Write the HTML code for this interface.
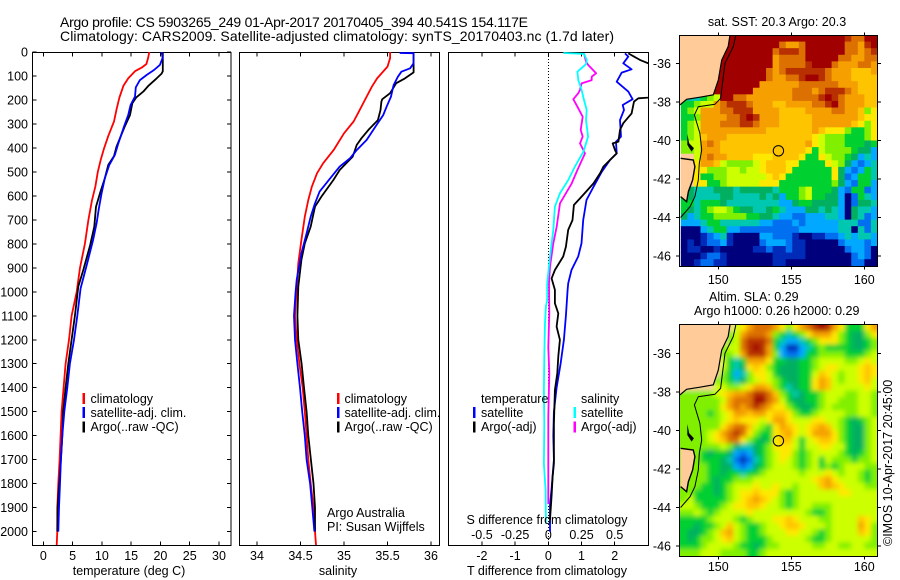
<!DOCTYPE html>
<html>
<head>
<meta charset="utf-8">
<style>
html,body{margin:0;padding:0;background:#fff;}
svg{display:block;}
text{font-family:"Liberation Sans",sans-serif;font-size:12.5px;fill:#000;}
.t{font-size:14px;}
</style>
</head>
<body>
<svg id="fig" xmlns="http://www.w3.org/2000/svg" width="900" height="580" viewBox="0 0 900 580">
<defs>
<clipPath id="clipT"><rect x="33" y="52" width="198" height="493"/></clipPath>
<clipPath id="clipS"><rect x="240" y="52" width="199" height="493"/></clipPath>
<clipPath id="clipD"><rect x="448" y="52" width="200" height="493"/></clipPath>
<clipPath id="clipM1"><rect x="679" y="35" width="198" height="232"/></clipPath>
<clipPath id="clipM2"><rect x="679" y="324" width="198" height="233"/></clipPath>
<filter id="smooth" x="-10%" y="-10%" width="120%" height="120%"><feGaussianBlur stdDeviation="2.4"/></filter>
</defs>
<text class="t" x="60" y="27" textLength="468" lengthAdjust="spacing">Argo profile: CS 5903265_249 01-Apr-2017 20170405_394 40.541S 154.117E</text>
<text class="t" x="60" y="41" textLength="554" lengthAdjust="spacing">Climatology: CARS2009. Satellite-adjusted climatology: synTS_20170403.nc (1.7d later)</text>
<g id="plots"></g>
<text x="129" y="575" text-anchor="middle">temperature (deg C)</text>
<text x="338" y="575" text-anchor="middle">salinity</text>
<text x="547" y="575" text-anchor="middle">T difference from climatology</text>
<text x="547" y="524" text-anchor="middle">S difference from climatology</text>
<text x="327" y="517">Argo Australia</text>
<text x="327" y="531">PI: Susan Wijffels</text>
<text x="777" y="26" text-anchor="middle">sat. SST: 20.3 Argo: 20.3</text>
<text x="709" y="301">Altim. SLA: 0.29</text>
<text x="694" y="315">Argo h1000: 0.26 h2000: 0.29</text>
<text transform="translate(892,546) rotate(-90)">©IMOS 10-Apr-2017 20:45:00</text>
</svg>
<script>
// ---- profile data ----
const depthTicks = [0,100,200,300,400,500,600,700,800,900,1000,1100,1200,1300,1400,1500,1600,1700,1800,1900,2000];
const tempTicks = [0,5,10,15,20,25,30];
const salTicks = [34,34.5,35,35.5,36];
const salTickLabels = ['34','34.5','35','35.5','36'];
const diffTTicks = [-2,-1,0,1,2];
const diffSTicks = [-0.5,-0.25,0,0.25,0.5];
const lonTicks = [150,155,160];
const latTicks = [-36,-38,-40,-42,-44,-46];

const tempClimDepth = [0,25,50,65,80,110,140,190,240,290,350,400,450,500,560,620,700,800,900,1000,1100,1200,1300,1400,1500,1600,1700,1800,1900,2000,2056];
const tempClimValue = [18.1,17.9,17.6,16.8,15.65,14.5,13.7,13.0,12.5,12.07,11.1,10.4,9.8,9.3,8.9,8.3,7.7,7.1,6.26,5.7,4.84,4.38,3.8,3.47,3.13,2.96,2.79,2.56,2.39,2.39,2.28];
const tempArgoDepth = [0,80,90,110,142,165,189,214,263,311,395,434,471,527,589,645,728,805,909,978,1100,1200,1300,1400,1500,1600,1700,1800,1900,2000];
const tempArgoValue = [20.4,20.4,20.2,19.35,17.9,17.07,15.9,15.2,14.8,13.9,12.5,12.07,11.1,10.5,9.68,9.0,8.7,8.0,6.83,5.98,5.4,4.84,4.27,3.8,3.4,3.24,3.0,2.73,2.45,2.39];
const tempSatDepth = [0,25,54,75,96,117,147,186,221,263,311,381,430,471,527,589,652,714,784,881,986,1100,1200,1300,1400,1500,1600,1700,1800,1900,2000];
const tempSatValue = [20.2,20.37,19.9,18.9,17.64,16.5,15.8,15.65,14.9,14.5,13.77,12.8,12.2,11.27,10.5,9.96,9.5,9.1,8.5,7.5,6.37,5.8,5.24,4.55,4.1,3.59,3.24,3.0,2.85,2.68,2.56];

const salClimDepth = [0,26,61,110,145,200,256,290,339,409,464,506,562,617,687,784,881,986,1100,1200,1300,1400,1500,1600,1700,1800,1900,2000,2056];
const salClimValue = [35.53,35.53,35.5,35.38,35.32,35.24,35.16,35.11,35.0,34.88,34.76,34.69,34.63,34.59,34.55,34.51,34.475,34.456,34.437,34.456,34.487,34.525,34.55,34.57,34.59,34.617,34.65,34.667,34.678];
const salArgoDepth = [0,85,110,130,172,197,207,242,284,325,360,388,409,436,492,534,603,645,728,798,867,978,1100,1200,1300,1400,1500,1600,1700,1800,1900,2000];
const salArgoValue = [35.8,35.8,35.7,35.6,35.53,35.44,35.43,35.42,35.39,35.28,35.2,35.146,35.126,35.1,34.95,34.877,34.74,34.667,34.617,34.55,34.51,34.475,34.464,34.475,34.513,34.54,34.57,34.59,34.62,34.65,34.667,34.667];
const salSatDepth = [4,5,47,68,82,103,138,186,228,263,304,367,409,443,478,527,582,631,687,756,840,950,1000,1100,1200,1300,1400,1500,1600,1700,1800,1900,2000];
const salSatValue = [35.64,35.8,35.8,35.76,35.66,35.62,35.57,35.54,35.49,35.45,35.375,35.26,35.146,35.07,34.95,34.84,34.72,34.667,34.617,34.57,34.51,34.456,34.444,34.425,34.437,34.464,34.494,34.52,34.55,34.57,34.61,34.636,34.66];

const diffTSatDepth = [6,19,47,72,86,124,147,165,197,221,242,284,353,374,423,450,499,562,617,701,798,853,909,965,992,1100,1200,1300,1400,1500,1600,1700,1820,1890,2000];
const diffTSatValue = [2.31,2.41,2.26,2.51,2.21,2.06,2.26,2.41,2.54,2.24,2.28,2.16,2.19,2.04,2.06,1.86,1.61,1.36,1.15,1.05,1.0,0.9,0.7,0.6,0.58,0.53,0.47,0.37,0.25,0.17,0.15,0.17,0.1,0.05,0.05];
const diffTArgoDepth = [6,33,47,80,120,160,190,193,207,256,297,325,374,381,409,423,450,478,506,548,596,638,701,742,812,853,909,944,992,1048,1090,1145,1200,1270,1340,1410,1550,1717,1772,1850,1950];
const diffTArgoValue = [2.41,2.76,3.01,4.4,5.0,3.6,3.01,2.71,2.58,2.51,2.26,2.16,2.11,1.94,2.01,2.06,1.86,1.66,1.56,1.36,1.05,0.77,0.73,0.6,0.53,0.45,0.2,0.1,0.2,0.2,0.3,0.25,0.35,0.3,0.27,0.2,0.17,0.17,0.13,0.1,0.05];
const diffSArgoDepth = [6,40,54,89,103,117,131,158,172,197,228,270,325,353,381,423,492,548,631,728,798,895,965,1090,1230,1340,1520,1690,1885];
const diffSArgoValue = [0.269,0.284,0.3,0.36,0.327,0.327,0.251,0.239,0.226,0.188,0.219,0.259,0.244,0.259,0.239,0.276,0.219,0.176,0.088,0.063,0.038,0.0126,0.005,0.0075,0,0.0075,0,0,0];
const diffSSatDepth = [4,8,33,51,82,117,158,200,242,284,353,416,478,534,589,645,742,853,965,1034,1062,1131,1270,1410,1550,1717,1828,1967];
const diffSSatValue = [0.113,0.269,0.289,0.284,0.219,0.226,0.251,0.269,0.289,0.284,0.3,0.264,0.2,0.15,0.088,0.05,0.038,0.0126,-0.008,-0.008,-0.018,-0.025,-0.03,-0.033,-0.03,-0.033,-0.02,-0.018];

// ---- map data ----
const argoLon = 154.117;
const argoLat = -40.541;
const landMainLon = [150.8,150.68,150.23,150.0,149.66,148.74,147.83,147.37,147.2,147.2];
const landMainLat = [-34.53,-35.13,-35.83,-36.87,-37.64,-37.76,-37.87,-38.16,-38.16,-34.4];
const landTasLon = [147.42,148.29,148.4,148.24,147.95,147.83,147.42];
const landTasLat = [-40.93,-41.02,-41.36,-42.06,-42.66,-43.18,-42.92];
const isoLon = [151.2,151.03,150.46,150.3,150.16,149.77,148.63,148.36,148.74,148.86,148.7,148.63,148.4,148.06,147.42];
const isoLat = [-34.53,-35.13,-36,-36.95,-37.82,-38.13,-38.25,-38.68,-39.63,-40.5,-41.19,-42.06,-42.92,-43.44,-44.0];
const flindersLon = [147.88,148.01,148.33,148.17,147.88];
const flindersLat = [-39.67,-40.15,-40.41,-40.58,-40.24];
const sstCodes = [
"lllllllXXXXXXXXXXXXXXXXXXRDDXX",
"lllllllXXXXXXXXDOODXXXXXXDDORX",
"llllllXXXXXXXXDRRRDXXXXXXDDODR",
"llllllXXXXXXXXODDDDXXXXXDDOODD",
"lllllXXXXXXXXXODDDDRXXXDOOODDO",
"lllllXXXXXXXXDODRRRRRRDOOOoooO",
"lllllXXXXXXXXDOODDRXXRDOOOoooo",
"lllllXXXXXXXOOOOOODDDDDDOOOooo",
"lllllXXXXXXOOOOOODDDODRRRDOooo",
"GTTGVYXXDDOOOOOOODDDDRXRDOOOoo",
"GGVYYODRRRDOOOooOOOODDRXDOOOoo",
"GVYOOODDRRROOOOooooOOOODDOOoVy",
"GGVOOOODDRXROOOoooooOOOOOOOoyy",
"GVYOOODDDRRDOOOoooooOOOOOOoyVy",
"GVYOOOOOOOOOOoooooooOoyyyVGGVy",
"GVYoOOOoooooooooooooyYVVVGGGVy",
"VYYODOoooooooooooooOyYVVVGGGMG",
"VVYOOOoooooooooooooyGYVVVVGMMS",
"llYODOOooooyyyooooyGGyYVVGMSTS",
"llyOOoYVVVVYyoooyyGGGGyYVMSLST",
"llyyVVVYYVYYyoooyGGGGGGyMSLSGT",
"llyGGVVYYYYYYyoyGGGGGGGyMLSGGT",
"llyyGGVYYYYYyyyGGGGGGGGVMSLGGS",
"lMTTTMMMTMMMMMTGGGVYGGGMSLGGLS",
"GMTTTTMMTTTTMTMSGGVYGGMMSNLGTS",
"GGTGGGMTTTTTTTTSSMGGMMMMSNLMMT",
"GMTGVYYVGMMTTMGTSSSMMTMTSNMTTS",
"MSTGGVVVVVGGMMTSSLLSSSTTSNMTLS",
"SSSTGGTTTTTTSSLLLSLSSSSSTTTLLT",
"NNNSTGGSSLLLLLLLLLSSSSSSTTNTLT",
"NNNBLSTBNNNNSSLLLBNNBBLLSTSTTS",
"NBNBLLSBNNNNLSSSLBBNNNNNLSSSLS",
"NBBNNBNNNNNBBLBBLBBNNNNNNLSSLN",
"NNNBLLBNNNNNNNBBBBBNNNNNNNLSLN",
"NNBLLBBNNNNNNNBBNNNNNNNNNNLLNN"
];
const slaCodes = [
"llllllllYyODDDOyVyODRXROyGGGyO",
"lllllllVYODDDOVGTGVyOOOyVGMMVy",
"lllllllVYDRRRDGTSSTGVyyyVGMMGV",
"llllllVYYDRXROGSBBSTGVGGGGMMGV",
"llllllVVYORRROVSLLSGGVVVVGGGVY",
"llllllYGTGOOOyGGMMGGVYYYYVVYyY",
"llllllYGTMyoyVGMMMGGVYyyYYYyoy",
"llllllVGSTVyyYGMMMGGYoyYVYYyoy",
"lllllVVGTMVYyYVGMMGGyOoYVYYyoY",
"lllllYYVVYyOOoVGTMGGyOoYYYYYyY",
"VVVVVYyoOODRRDoVGTMGGVYYYVVYYV",
"VVVVVVYODDDXXDOYGMMGGVYYVVVYYV",
"VVVVVVyODODRDOyyVGMMGVYVVVVYYV",
"VVVVGVYyOOoOOyooyVGGVYYYYVVYYV",
"VVVVVVYyoyyyYyOOyYYYyyYYVGMGVY",
"VVVVVVyODDoYVGyOoyYyoOoYVGMMVY",
"VVVVYyODRDyVGGyoOyYyOOOyVGMMVY",
"VVVVYyoDDyVGMGyooYGYyooyVGMMVY",
"VVVVVVYVMTTMGVyyyYGYYyyYYGMMVY",
"VVVGMGGMSLSMGVYyyVGVYYYYVGMGVY",
"VVVGGGMTLBLTGVYyYVGVYGYVVVGVVY",
"VVVVGGMMSLSMGVYYYVGVYGVGVYYYVV",
"VVVVGGMGGTGGVYYYYYVYYYyYVYYVGV",
"VVVVGMGGVVVYYYYYYYYYyoOyYYYVGV",
"VVVGGMGVYYYyYYyYYVYYYoOoyYYYVV",
"VVGGGMGVYyyoyyyVGVYYYYYYyyYYYY",
"VYGGGGGVYyoOoyYVGVYYYYYYYYYYYY",
"YYVGGGVYyyooyYYVGVYYVVVYYYYYYY",
"VVYVGVYYYYyYYYYYYYYVGGVYYYYYYY",
"GGGGVYYYVGVYYYyyoyYYYVVYYYYoyY",
"GGMGGVYoYVGGVYYyooyYYYVYYYYOyV",
"GMMGVYoOYVGGVYYYyyYYVGVYYYYoyV",
"GMGVVYyoYVGGGVYYYYYVGGVYYYYYYV",
"GGGVYYYYVGGMGVVYYYYYVVYYVVYYVV",
"VVVYYYVVVVGGVYYYYYYYYYYYYYYYYY"
];
const sstPalette = {N:'#00007d',B:'#002ab8',L:'#0070f0',S:'#00a8ff',T:'#00c8b0',M:'#00b060',G:'#00d030',V:'#80f000',Y:'#ccff00',y:'#ffe800',o:'#ffc400',O:'#f5a000',D:'#dc7000',R:'#b83000',X:'#a00000',l:'#ffcc99'};

// ---- axis functions ----
const tempX = v => 43.3 + v * 5.857;
const salX = v => 257 + (v - 34) * 87;
const diffX = v => 548.3 + v * 33.2;
const diffSX = v => diffX(v * 4);
const depthY = d => 52 + d * 0.2398;
const lonX = v => 718.3 + (v - 150) * 14.6;
const latY1 = v => 63.3 + (-36 - v) * 19.27;
const latY2 = v => 353.3 + (-36 - v) * 19.27;

const NS = 'http://www.w3.org/2000/svg';
const root = document.getElementById('plots');
function make(tag, attrs, parent) {
  const e = document.createElementNS(NS, tag);
  for (const k in attrs) e.setAttribute(k, attrs[k]);
  (parent || root).appendChild(e);
  return e;
}
function label(str, x, y, anchor, name) {
  const e = make('text', {x: x, y: y, 'text-anchor': anchor});
  e.textContent = str;
  
  
  return e;
}
function tick(x1, y1, x2, y2, name) {
  const e = make('line', {x1: x1, y1: y1, x2: x2, y2: y2, stroke: '#000', 'stroke-width': 1, 'shape-rendering': 'crispEdges'});
  
  
}
function frame(x, y, w, h, name) {
  const e = make('rect', {x: x, y: y, width: w, height: h, fill: 'none', stroke: '#000', 'stroke-width': 1, 'shape-rendering': 'crispEdges'});
  
  
}
function profile(depths, values, xFn, color, width, clip, name) {
  const pts = depths.map((d, i) => xFn(values[i]).toFixed(1) + ',' + depthY(d).toFixed(1)).join(' ');
  const e = make('polyline', {points: pts, fill: 'none', stroke: color, 'stroke-width': width, 'clip-path': 'url(#' + clip + ')', 'stroke-linejoin': 'round'});
  
  
}
function legendBar(x, yTop, color, name) {
  const e = make('rect', {x: x, y: yTop, width: 2.4, height: 11, fill: color, 'shape-rendering': 'crispEdges'});
  
  
}

// ---- panel frames and ticks ----
frame(32.5, 52.5, 198.5, 493, 'temperature-plot-frame');
frame(239.5, 52.5, 200, 493, 'salinity-plot-frame');
frame(448.5, 52.5, 200, 493, 'difference-plot-frame');

depthTicks.forEach(d => {
  const y = depthY(d);
  label(String(d), 28, y + 4.5, 'end', 'depth-tick-label');
  tick(32.5, y, 36.5, y, 'depth-tick-left');
  tick(227, y, 231, y, 'depth-tick-right');
});
tempTicks.forEach(v => {
  const x = tempX(v);
  label(String(v), x, 560, 'middle', 'temperature-tick-label');
  tick(x, 52.5, x, 56.5, 'temperature-tick-top');
  tick(x, 541.5, x, 545.5, 'temperature-tick-bottom');
});
salTicks.forEach((v, i) => {
  const x = salX(v);
  label(salTickLabels[i], x, 560, 'middle', 'salinity-tick-label');
  tick(x, 52.5, x, 56.5, 'salinity-tick-top');
  tick(x, 541.5, x, 545.5, 'salinity-tick-bottom');
});
diffTTicks.forEach(v => {
  const x = diffX(v);
  label(String(v), x, 560, 'middle', 't-difference-tick-label');
  tick(x, 52.5, x, 56.5, 'difference-tick-top');
  tick(x, 541.5, x, 545.5, 'difference-tick-bottom');
});
diffSTicks.forEach(v => {
  label(String(v), diffSX(v), 539, 'middle', 's-difference-tick-label');
});

// ---- profile series ----
profile(tempClimDepth, tempClimValue, tempX, '#ff0000', 1.8, 'clipT', 'temperature-climatology-line');
profile(tempArgoDepth, tempArgoValue, tempX, '#000000', 1.8, 'clipT', 'temperature-argo-line');
profile(tempSatDepth, tempSatValue, tempX, '#0000ff', 1.8, 'clipT', 'temperature-satellite-line');
profile(salClimDepth, salClimValue, salX, '#ff0000', 1.8, 'clipS', 'salinity-climatology-line');
profile(salArgoDepth, salArgoValue, salX, '#000000', 1.8, 'clipS', 'salinity-argo-line');
profile(salSatDepth, salSatValue, salX, '#0000ff', 1.8, 'clipS', 'salinity-satellite-line');

const zeroLine = make('line', {x1: diffX(0), y1: 53, x2: diffX(0), y2: 545, stroke: '#000', 'stroke-width': 1, 'stroke-dasharray': '1 2', 'shape-rendering': 'crispEdges'});



profile(diffTSatDepth, diffTSatValue, diffX, '#0000ff', 1.8, 'clipD', 'temperature-difference-satellite-line');
profile(diffTArgoDepth, diffTArgoValue, diffX, '#000000', 1.8, 'clipD', 'temperature-difference-argo-line');
profile(diffSArgoDepth, diffSArgoValue, diffSX, '#ff00ff', 1.8, 'clipD', 'salinity-difference-argo-line');
profile(diffSSatDepth, diffSSatValue, diffSX, '#00ffff', 1.8, 'clipD', 'salinity-difference-satellite-line');

// ---- legends ----
legendBar(82.5, 393, '#ff0000', 'legend-bar-climatology');
legendBar(82.5, 407, '#0000ff', 'legend-bar-satellite');
legendBar(82.5, 421.5, '#000000', 'legend-bar-argo');
label('climatology', 90.5, 403, 'start', 'legend-label-climatology');
label('satellite-adj. clim.', 90.5, 417, 'start', 'legend-label-satellite');
label('Argo(..raw -QC)', 90.5, 431, 'start', 'legend-label-argo');
legendBar(337, 393, '#ff0000', 'legend-bar-climatology');
legendBar(337, 407, '#0000ff', 'legend-bar-satellite');
legendBar(337, 421.5, '#000000', 'legend-bar-argo');
label('climatology', 344.5, 403, 'start', 'legend-label-climatology');
label('satellite-adj. clim.', 344.5, 417, 'start', 'legend-label-satellite');
label('Argo(..raw -QC)', 344.5, 431, 'start', 'legend-label-argo');
label('temperature', 481, 403, 'start', 'legend-heading-temperature');
label('satellite', 481, 417, 'start', 'legend-label-t-satellite');
label('Argo(-adj)', 481, 431, 'start', 'legend-label-t-argo');
label('salinity', 581, 403, 'start', 'legend-heading-salinity');
label('satellite', 581, 417, 'start', 'legend-label-s-satellite');
label('Argo(-adj)', 581, 431, 'start', 'legend-label-s-argo');
legendBar(473, 407, '#0000ff', 'legend-bar-t-satellite');
legendBar(473, 421.5, '#000000', 'legend-bar-t-argo');
legendBar(573.5, 407, '#00ffff', 'legend-bar-s-satellite');
legendBar(573.5, 421.5, '#ff00ff', 'legend-bar-s-argo');

// ---- maps ----
function polyPts(lons, lats, yFn) {
  return lons.map((v, i) => lonX(v).toFixed(1) + ',' + yFn(lats[i]).toFixed(1)).join(' ');
}
function drawMap(codes, topY, bottomY, yFn, clip, blur, prefix) {
  const g = make('g', {'clip-path': 'url(#' + clip + ')'});
  
  
  const field = make('g', blur ? {filter: 'url(#smooth)'} : {}, g);
  
  
  const x0 = 680.8, cw = (877.5 - 680.8) / codes[0].length, ch = (bottomY - topY) / codes.length;
  codes.forEach((row, r) => {
    row.split('').forEach((code, c) => {
      const pad = blur ? 14 : 0;
      const xa = x0 + c * cw - (c === 0 ? pad : 0);
      const xb = x0 + (c + 1) * cw + (c === row.length - 1 ? pad : 0);
      const ya = topY + r * ch - (r === 0 ? pad : 0);
      const yb = topY + (r + 1) * ch + (r === codes.length - 1 ? pad : 0);
      const cell = make('rect', {x: xa.toFixed(2), y: ya.toFixed(2), width: (xb - xa + 0.4).toFixed(2), height: (yb - ya + 0.4).toFixed(2), fill: sstPalette[code]}, field);
      
      
    });
  });
  const land = make('polygon', {points: polyPts(landMainLon, landMainLat, yFn), fill: '#ffcc99'}, g);
  
  
  const coast = make('polyline', {points: polyPts(landMainLon.slice(0, 8), landMainLat.slice(0, 8), yFn), fill: 'none', stroke: '#000', 'stroke-width': 1.2}, g);
  
  
  const tas = make('polygon', {points: polyPts(landTasLon, landTasLat, yFn), fill: '#ffcc99'}, g);
  
  
  const tasCoast = make('polyline', {points: polyPts(landTasLon, landTasLat, yFn), fill: 'none', stroke: '#000', 'stroke-width': 1.4}, g);
  
  
  const fl = make('polygon', {points: polyPts(flindersLon, flindersLat, yFn), fill: '#000'}, g);
  
  
  const iso = make('polyline', {points: polyPts(isoLon, isoLat, yFn), fill: 'none', stroke: '#000', 'stroke-width': 1}, g);
  
  
  const dot = make('circle', {cx: lonX(argoLon), cy: yFn(argoLat), r: 5.2, fill: 'none', stroke: '#000', 'stroke-width': 1}, g);
  
  
}
drawMap(sstCodes, 35, 265.8, latY1, 'clipM1', false, 'sst');
drawMap(slaCodes, 324.5, 555.5, latY2, 'clipM2', true, 'sla');
frame(679.5, 35.5, 198, 231, 'sst-map-frame');
frame(679.5, 324.5, 198, 232, 'sla-map-frame');

function mapAxes(yFn, top, bottom, labelY) {
  lonTicks.forEach(v => {
    const x = lonX(v);
    label(String(v), x, labelY, 'middle', 'longitude-tick-label');
    tick(x, top - 3, x, top, 'longitude-tick-top');
    tick(x, bottom, x, bottom + 3, 'longitude-tick-bottom');
  });
  latTicks.forEach(v => {
    const y = yFn(v);
    label(String(v), 671, y + 4.5, 'end', 'latitude-tick-label');
    tick(676, y, 679.5, y, 'latitude-tick-left');
    tick(877.5, y, 881, y, 'latitude-tick-right');
  });
}
mapAxes(latY1, 35.5, 266.5, 284);
mapAxes(latY2, 324.5, 556.5, 571);
</script>
</body>
</html>
